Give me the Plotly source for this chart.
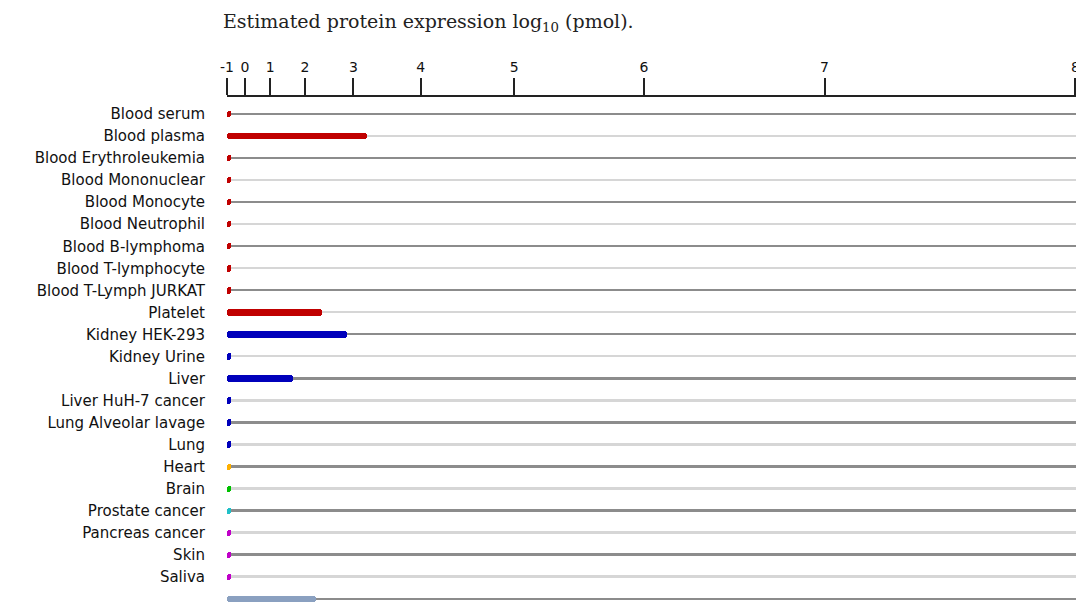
import numpy as np
import plotly.graph_objects as go

# ---- data ----
tissues = [
    "Blood serum", "Blood plasma", "Blood Erythroleukemia", "Blood Mononuclear",
    "Blood Monocyte", "Blood Neutrophil", "Blood B-lymphoma", "Blood T-lymphocyte",
    "Blood T-Lymph JURKAT", "Platelet", "Kidney HEK-293", "Kidney Urine", "Liver",
    "Liver HuH-7 cancer", "Lung Alveolar lavage", "Lung", "Heart", "Brain",
    "Prostate cancer", "Pancreas cancer", "Skin", "Saliva", "Whole Organism",
]
# estimated log10 (pmol) values
expression = [
    -0.75, 3.23, -0.75, -0.75,
    -0.75, -0.75, -0.75, -0.75,
    -0.75, 2.40, 2.89, -0.75, 1.70,
    -0.75, -0.75, -0.75, -0.75, -0.75,
    -0.75, -0.75, -0.75, -0.75, 2.26,
]
bar_colors = (["#c00000"] * 10 + ["#0000bb"] * 6 +
              ["#ffb000", "#00c000", "#20c0c8", "#c000c8", "#c000c8", "#c000c8", "#8aa0c0"])
tick_values = [-1, 0, 1, 2, 3, 4, 5, 6, 7, 8]
tick_labels = ["-1", "0", "1", "2", "3", "4", "5", "6", "7", "8"]


def scale(v):
    # the axis of the original is spaced exponentially (10^(v/7))
    return 10 ** (np.asarray(v, dtype=float) / 7.0)


base = float(scale(-1))
x_end = float(scale(8)) + 0.01
ys = list(range(len(tissues)))

fig = go.Figure()

# alternating guide lines behind each row
fig.add_trace(go.Bar(
    y=ys, x=[x_end - base] * len(ys), base=base, orientation="h",
    width=0.09,
    marker=dict(color=["#8c8c8c" if i % 2 == 0 else "#d6d6d6" for i in ys], line_width=0),
    hoverinfo="skip", showlegend=False,
))

# expression bars
fig.add_trace(go.Bar(
    y=ys, x=list(scale(expression) - base), base=base, orientation="h",
    width=0.29,
    marker=dict(color=bar_colors, line_width=0, cornerradius=3),
    showlegend=False,
))

fig.update_layout(
    width=1076, height=606,
    margin=dict(l=227, r=0, t=97, b=0, autoexpand=False),
    paper_bgcolor="white", plot_bgcolor="white",
    barmode="overlay", bargap=0,
    font=dict(family="DejaVu Sans", size=14, color="#111"),
    xaxis=dict(
        side="top", range=[base, x_end], automargin=False,
        tickvals=list(scale(tick_values)), ticktext=tick_labels,
        ticks="outside", ticklen=17, tickwidth=1.5, tickcolor="#222",
        showline=True, linecolor="#222", linewidth=2,
        showgrid=False, zeroline=False, ticklabeloverflow="allow",
        tickfont=dict(family="DejaVu Sans", size=14, color="#111"),
    ),
    yaxis=dict(
        range=[22.318, -0.771], tickvals=ys, ticktext=tissues, automargin=False,
        showgrid=False, zeroline=False, showline=False, ticks="",
        ticklabelstandoff=21,
        tickfont=dict(family="DejaVu Sans", size=15, color="#111"),
    ),
    annotations=[dict(
        text="Estimated protein expression log<sub>10</sub> (pmol).",
        xref="paper", yref="paper", x=0, y=1, xanchor="left", yanchor="bottom",
        xshift=-6, yshift=60, showarrow=False,
        font=dict(family="DejaVu Serif", size=19, color="#222"),
    )],
)

fig.write_html(
    "out.html",
    config={"displayModeBar": False},
    post_script="document.body.style.margin='0';document.body.style.overflow='hidden';",
)
